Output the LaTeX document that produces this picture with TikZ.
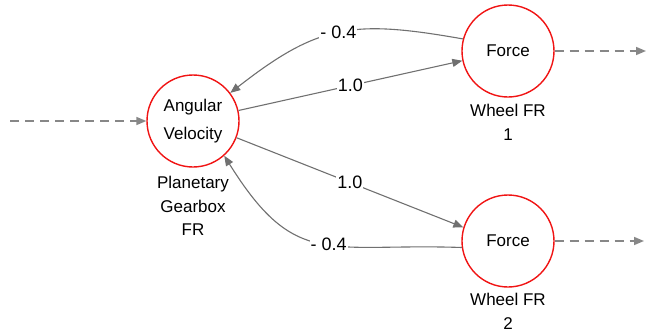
\documentclass[tikz,border=0pt]{standalone}
\usepackage{fontspec}
\setmainfont{Liberation Sans}
\usetikzlibrary{arrows.meta}
\definecolor{linkgray}{RGB}{112,112,112}
\definecolor{dashgray}{RGB}{135,135,135}
\definecolor{unitred}{RGB}{240,20,20}
\begin{document}
\begin{tikzpicture}[x=1pt,y=-1pt,
  unit/.style={circle,draw=unitred,line width=1.4pt,minimum size=92pt,inner sep=0pt,
    align=center,font=\fontsize{17}{28}\selectfont},
  caption/.style={anchor=north,inner sep=0pt,align=center,font=\fontsize{17}{23.5}\selectfont},
  link/.style={draw=linkgray,line width=1.1pt,-{Triangle[length=10pt,width=8pt]}},
  feed/.style={draw=dashgray,line width=1.6pt,dash pattern=on 9pt off 6pt,
    -{Triangle[length=10pt,width=8pt]}},
  weight/.style={fill=white,inner sep=1pt,font=\fontsize{18}{18}\selectfont}]
\useasboundingbox (0,0) rectangle (650,335);

% units
\node[unit] (av) at (193,121) {Angular\\Velocity};
\node[unit] (f1) at (508,51) {Force};
\node[unit] (f2) at (508,241) {Force};

% captions under the units
\node[caption] (avc) at (193,176) {Planetary\\Gearbox\\FR};
\node[caption] (f1c) at (508,104) {Wheel FR\\1};
\node[caption] (f2c) at (508,293) {Wheel FR\\2};

% external signal ends
\coordinate (in) at (10,121);
\coordinate (out1) at (646,51);
\coordinate (out2) at (644,241);

\draw[feed] (in) -- (av.west);
\draw[feed] (f1.east) -- (out1);
\draw[feed] (f2.east) -- (out2);

% weighted links
\draw[link] (av.13) -- node[weight] {1.0} (f1.192);
\draw[link] (av.-21) -- node[weight] {1.0} (f2.163);
\draw[link] (f1.165) to[out=170,in=38,looseness=1.2] node[weight,pos=0.5] {- 0.4} (av.37);
\draw[link] (f2.188) to[out=178,in=-58,looseness=1.35] node[weight,pos=0.455] {- 0.4} (av.-48);
\end{tikzpicture}
\end{document}
